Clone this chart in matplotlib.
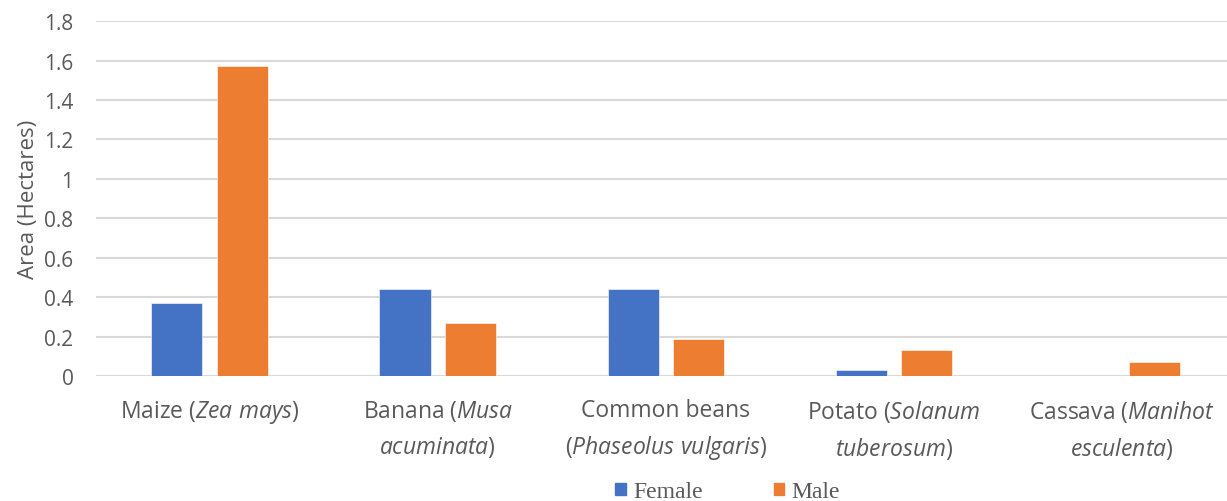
import matplotlib
matplotlib.use("Agg")
import matplotlib.pyplot as plt
from matplotlib.patches import Patch
import numpy as np

categories = [
    "Maize ($\\mathit{Zea\\ mays}$)",
    "Banana ($\\mathit{Musa}$\n$\\mathit{acuminata}$)",
    "Common beans\n($\\mathit{Phaseolus\\ vulgaris}$)",
    "Potato ($\\mathit{Solanum}$\n$\\mathit{tuberosum}$)",
    "Cassava ($\\mathit{Manihot}$\n$\\mathit{esculenta}$)",
]
female = [0.37, 0.44, 0.44, 0.03, 0.0]
male = [1.57, 0.27, 0.19, 0.13, 0.07]
yticks = [0, 0.2, 0.4, 0.6, 0.8, 1, 1.2, 1.4, 1.6, 1.8]
ytick_labels = ["0", "0.2", "0.4", "0.6", "0.8", "1", "1.2", "1.4", "1.6", "1.8"]

plt.rcParams['mathtext.fontset'] = 'custom'
plt.rcParams['mathtext.rm'] = 'Open Sans'
plt.rcParams['mathtext.it'] = 'Open Sans:italic'
plt.rcParams['font.family'] = ['Open Sans', 'DejaVu Sans']

blue = "#4472C4"
orange = "#ED7D31"
grey = "#595959"

fig = plt.figure(figsize=(12.27, 5.02), dpi=100)
ax = fig.add_axes([0.078, 0.249, 0.922, 0.707])

x = np.arange(len(categories))
w = 0.224
off = 0.144
ax.bar(x - off, female, width=w, color=blue, edgecolor="white", linewidth=0.4, zorder=3)
ax.bar(x + off, male, width=w, color=orange, edgecolor="white", linewidth=0.4, zorder=3)

ax.set_xlim(-0.5, 4.46)
ax.set_ylim(0, 1.8)
ax.set_yticks(yticks)
ax.set_yticklabels(ytick_labels, fontsize=15, color=grey)
ax.set_xticks(x)
ax.set_xticklabels(categories, fontsize=16.5, color=grey, linespacing=1.55)
ax.tick_params(axis='both', length=0)
ax.tick_params(axis='x', pad=16)
ax.tick_params(axis='y', pad=16)
ax.yaxis.grid(True, color="#D9D9D9", linewidth=1.5, zorder=0)
ax.set_axisbelow(True)
for s in ax.spines.values():
    s.set_visible(False)
ax.set_ylabel("Area (Hectares)", fontsize=16, color=grey, labelpad=4)

handles = [Patch(color=blue, label="Female"), Patch(color=orange, label="Male")]
fig.legend(handles=handles, loc="lower center", bbox_to_anchor=(0.593, -0.045), ncol=2,
           frameon=False, prop={'family': 'Liberation Serif', 'size': 17},
           handlelength=0.45, handleheight=0.45, handletextpad=0.3, columnspacing=3.0,
           labelcolor=grey)

fig.savefig("out.png", dpi=100)
